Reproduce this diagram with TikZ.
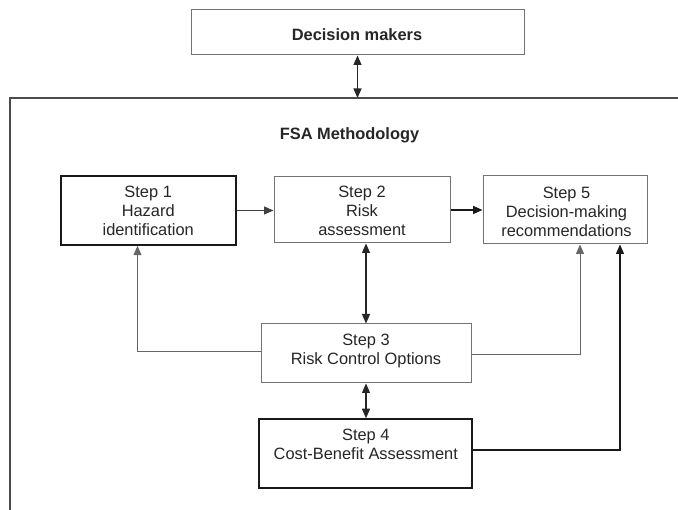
\documentclass[tikz,border=0pt]{standalone}
\usepackage{fontspec}
\setmainfont{Liberation Sans}
\usetikzlibrary{arrows.meta,calc}
\begin{document}
\begin{tikzpicture}[x=1pt,y=-1pt,
  txt/.style={font=\fontsize{16.4}{19}\selectfont, align=center, text=black!85, inner sep=0pt},
  bold/.style={txt, font=\fontsize{16.4}{19}\selectfont\bfseries},
  lightbox/.style={draw=black!55, line width=1pt, inner sep=0pt},
  heavybox/.style={draw=black!90, line width=1.5pt, inner sep=0pt},
  tip/.tip={Triangle[length=9.5pt,width=8pt]},
  link/.style={draw=black!75, line width=1pt, -tip},
  heavylink/.style={draw=black!90, line width=1.5pt, -tip},
  twoway/.style={draw=black!85, line width=1.1pt, tip-tip},
  frame/.style={draw=black!70, line width=1.2pt}]
\useasboundingbox (0,0) rectangle (678,510);
\fill[white] (0,0) rectangle (678,510);

% decision makers on top
\node[lightbox, minimum width=333pt, minimum height=45pt] (dm) at (357.5,32.5) {};
\node[bold] (dmt) at (357,34.8) {Decision makers};

% methodology frame (open to the right and bottom)
\coordinate (fr) at (678,98);
\coordinate (fc) at (10,98);
\coordinate (fb) at (10,510);
\draw[frame] (fr) -- (fc) -- (fb);
\node[bold] (fsa) at (349.5,134.8) {FSA Methodology};

% steps
\node[heavybox, minimum width=175pt, minimum height=69pt] (s1) at (148.5,210.5) {};
\node[txt] (s1t) at (148.2,211) {Step 1\\Hazard\\identification};

\node[lightbox, minimum width=176pt, minimum height=66pt] (s2) at (362,210) {};
\node[txt] (s2t) at (362,211) {Step 2\\Risk\\assessment};

\node[lightbox, minimum width=164pt, minimum height=68pt] (s5) at (565,210) {};
\node[txt] (s5t) at (566.5,212) {Step 5\\Decision-making\\recommendations};

\node[lightbox, minimum width=210pt, minimum height=59pt] (s3) at (366,353.5) {};
\node[txt] (s3t) at (366,351.3) {Step 3\\Risk Control Options};

\node[heavybox, minimum width=213pt, minimum height=69pt] (s4) at (365.5,453.5) {};
\node[txt] (s4t) at (365.8,444.6) {Step 4\\Cost-Benefit Assessment};

% connectors
\draw[twoway] (dm.south) -- (dm.south |- fr);
\draw[link] (s1.east) -- (s1.east -| s2.west);
\draw[heavylink] (s2.east) -- (s2.east -| s5.west);
\draw[twoway] (s3.north |- s2.south) -- (s3.north);
\draw[twoway] (s3.south) -- (s3.south |- s4.north);
\draw[link, draw=black!60] ([yshift=1.5pt]s3.west) -| ([xshift=-11pt]s1.south);
\draw[link, draw=black!60] ([yshift=-1.5pt]s3.east) -| ([xshift=15pt]s5.south);
\draw[heavylink, line width=1.3pt] ([yshift=3.5pt]s4.east) -| ([xshift=55pt]s5.south);
\end{tikzpicture}
\end{document}
